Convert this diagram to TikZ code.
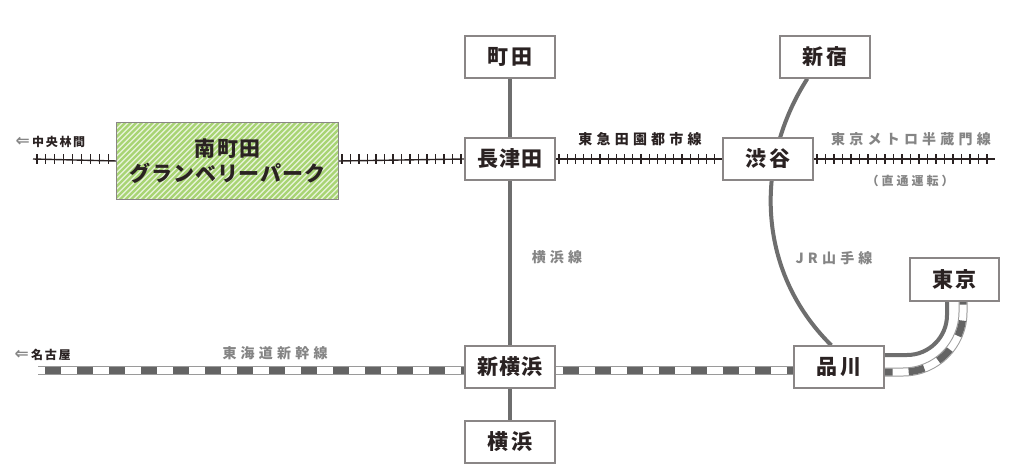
\documentclass[tikz,border=0pt]{standalone}
\usepackage{fontspec}
\usetikzlibrary{calc}
\newfontfamily\jp{Noto Sans CJK JP}[BoldFont={Noto Sans CJK JP Black}]
\newfontfamily\dv{DejaVu Sans}
\pgfdeclarelayer{bg}
\pgfsetlayers{bg,main}
\begin{document}
\begin{tikzpicture}[x=1pt,y=-1pt,
  stbox/.style={draw=boxgray,line width=1.3pt,fill=white,minimum width=90pt,minimum height=42pt,inner sep=0pt,
    font=\jp\bfseries\fontsize{21}{22}\selectfont,text=txtdark},
  lbldark/.style={font=\jp\bfseries\fontsize{14}{15}\selectfont,text=txtdark,inner sep=0pt},
  lblgray/.style={font=\jp\bfseries\fontsize{14}{15}\selectfont,text=txtgray,inner sep=0pt},
  graylinestyle/.style={draw=linegray,line width=4.5pt},
  tieline/.style={draw=txtdark,line width=1.4pt},
  tiestroke/.style={draw=txtdark,line width=1.1pt},
  shkout/.style={draw=shkgray,line width=9pt},
  shkin/.style={draw=white,line width=7pt},
  shkdash/.style={draw=shkdark,line width=7pt,dash pattern=on 16pt off 16pt,dash phase=25pt}]
\definecolor{boxgray}{HTML}{8A8686}
\definecolor{txtdark}{HTML}{2A2222}
\definecolor{txtgray}{HTML}{858585}
\definecolor{linegray}{HTML}{6E6E6E}
\definecolor{shkgray}{HTML}{9A9A9A}
\definecolor{shkdark}{HTML}{646464}
\definecolor{hatchgreen}{HTML}{A8D474}
\begin{pgfonlayer}{bg}
\path[use as bounding box,fill=white] (0,0) rectangle (1024,474);
\end{pgfonlayer}

% free ends
\coordinate (tl) at (33,159);
\coordinate (tr) at (995,159);
\coordinate (sl) at (38,370);

% stations
\node[stbox] (machida) at (510,57) {\addfontfeature{LetterSpace=12}町田};
\node[stbox] (nagatsuta) at (510,159) {\addfontfeature{LetterSpace=6}長津田};
\node[stbox] (shibuya) at (768,159) {\addfontfeature{LetterSpace=12}渋谷};
\node[stbox] (shinjuku) at (825,57) {\addfontfeature{LetterSpace=12}新宿};
\node[stbox] (shinyoko) at (510,367) {\addfontfeature{LetterSpace=6}新横浜};
\node[stbox] (yokohama) at (510,442) {\addfontfeature{LetterSpace=12}横浜};
\node[stbox] (shinagawa) at (839,367) {\addfontfeature{LetterSpace=12}品川};
\node[stbox,minimum width=89pt,minimum height=43pt] (tokyo) at (954.5,279.5) {\addfontfeature{LetterSpace=12}東京};

% Minami-machida box with hatching
\node[minimum width=221pt,minimum height=76pt,inner sep=0pt] (minami) at (227.5,161) {};
\fill[hatchgreen!25] (minami.north west) rectangle (minami.south east);
\begin{scope}
  \clip (minami.north west) rectangle (minami.south east);
  \foreach \k in {0,5.5,...,320} \draw[hatchgreen,line width=2.4pt] (117+\k-80,200) -- (117+\k,120);
\end{scope}
\draw[boxgray,line width=1.3pt] (minami.north west) rectangle (minami.south east);
\node[font=\jp\bfseries\fontsize{21}{22}\selectfont,text=txtdark,align=center,inner sep=0pt] (mtext) at (minami)
  {\addfontfeature{LetterSpace=5}南町田\\[3pt]\addfontfeature{LetterSpace=4}グランベリーパーク};

\begin{pgfonlayer}{bg}
% Yokohama line
\draw[graylinestyle] (machida.south) -- (yokohama.north);

% Yamanote
\draw[graylinestyle,line width=4pt] ($(shinjuku.south west)+(28,0)$)
  .. controls (755,160) and (755,270) .. ($(shinagawa.north west)+(38,0)$);
\draw[graylinestyle,line width=4pt,rounded corners=40pt] (shinagawa.east |- 0,355) -- (947,355) -- (tokyo.south -| 947,0);

% Tokaido shinkansen
\foreach \pa/\pb in {{sl}/{shinyoko.west |- 0,370},{shinyoko.east |- 0,370}/{shinagawa.west |- 0,370}} {
  \draw[shkout] (\pa) -- (\pb);
  \draw[shkin] (\pa) -- (\pb);
  \draw[shkdash] (\pa) -- (\pb);
}
\draw[shkout,rounded corners=60pt] (shinagawa.east |- 0,372) -- (963,372) -- (tokyo.south -| 963,0);
\draw[shkin,rounded corners=60pt] (shinagawa.east |- 0,372) -- (963,372) -- (tokyo.south -| 963,0);
\draw[shkdash,rounded corners=60pt,dash phase=8pt] (shinagawa.east |- 0,372) -- (963,372) -- (tokyo.south -| 963,0);

% Den-en-toshi / Hanzomon tie lines
\draw[tieline] (tl) -- (minami.west);
\foreach \x in {37,45.9,...,114} \draw[tiestroke] (\x,154) -- (\x,164);
\draw[tieline] (minami.east) -- (nagatsuta.west);
\foreach \x in {342,350.5,...,462} \draw[tiestroke] (\x,154) -- (\x,164);
\draw[tieline] (nagatsuta.east) -- (shibuya.west);
\foreach \x in {559,567.2,...,720} \draw[tiestroke] (\x,154) -- (\x,164);
\draw[tieline] (shibuya.east) -- (tr);
\foreach \x in {817,825.5,...,994} \draw[tiestroke] (\x,154) -- (\x,164);
\end{pgfonlayer}

% labels
\node[lbldark,anchor=west,font=\jp\bfseries\fontsize{12}{13}\selectfont] (chuo) at (32,142) {\addfontfeature{LetterSpace=14}中央林間};
\node[anchor=east,inner sep=0pt,text=txtgray,font=\dv\bfseries\fontsize{17}{17}\selectfont] (chuoarr) at (chuo.west) {⇐\kern2pt};
\node[lbldark,anchor=west,font=\jp\bfseries\fontsize{12}{13}\selectfont] (nagoya) at (31,355) {\addfontfeature{LetterSpace=14}名古屋};
\node[anchor=east,inner sep=0pt,text=txtgray,font=\dv\bfseries\fontsize{17}{17}\selectfont] (nagoyaarr) at (nagoya.west) {⇐\kern2pt};
\node[lbldark] (denen) at (640,139) {\addfontfeature{LetterSpace=30}東急田園都市線};
\node[lblgray] (hanzo) at (911,139) {\addfontfeature{LetterSpace=30}東京メトロ半蔵門線};
\node[lblgray,font=\jp\bfseries\fontsize{12}{13}\selectfont] (chokutsu) at (910,181) {\addfontfeature{LetterSpace=25}（直通運転）};
\node[lblgray] (yokosen) at (557,257) {\addfontfeature{LetterSpace=30}横浜線};
\node[lblgray] (jr) at (834,258) {\addfontfeature{LetterSpace=30}JR山手線};
\node[lblgray] (tokaido) at (275,353) {\addfontfeature{LetterSpace=30}東海道新幹線};
\end{tikzpicture}
\end{document}
